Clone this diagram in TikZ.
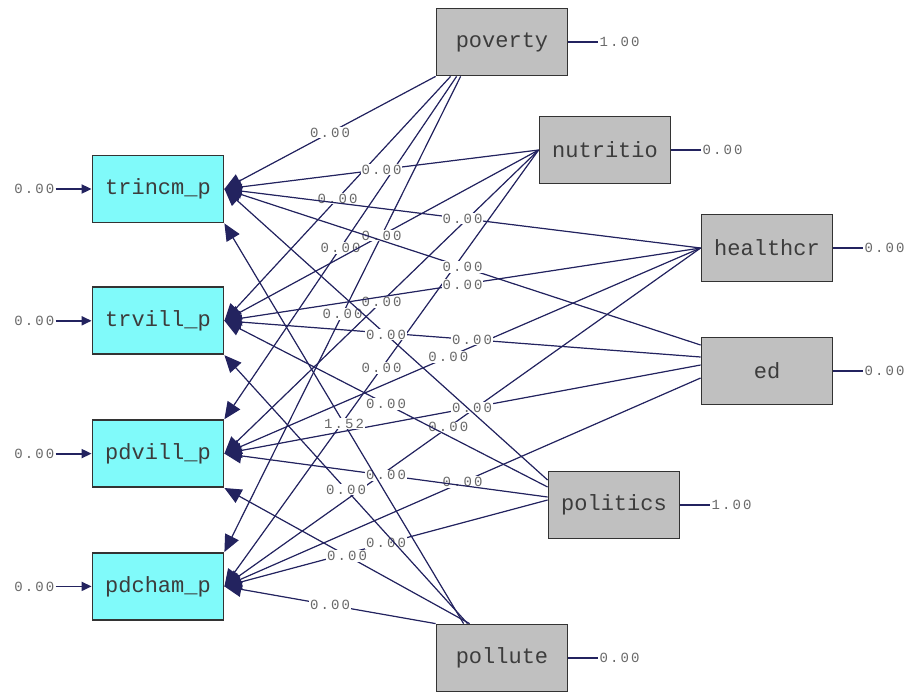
\documentclass[tikz,border=0pt]{standalone}
\usepackage{fontspec}
\setmonofont{Liberation Mono}
\newfontfamily\coeffont[LetterSpace=15]{Liberation Mono}
\usepackage{tikz}
\usetikzlibrary{arrows.meta}
\usetikzlibrary{calc}
\usetikzlibrary{positioning}
\definecolor{pathcol}{RGB}{35,35,95}
\definecolor{tipcol}{RGB}{15,15,120}
\definecolor{ycol}{RGB}{128,250,250}
\definecolor{xcol}{RGB}{192,192,192}
\definecolor{txtcol}{RGB}{60,60,60}
\definecolor{labcol}{RGB}{105,105,105}

\begin{document}
\begin{tikzpicture}[x=1pt, y=-1pt, >={Triangle[length=17pt, width=15pt]}]
    \ttfamily
    \useasboundingbox (0,0) rectangle (915,691);

    \tikzstyle{ybox} = [rectangle, draw=black!80, line width=1.8pt, fill=ycol, minimum width=131pt, minimum height=67pt, text=txtcol, font=\fontsize{22}{24}\selectfont]
    \tikzstyle{xbox} = [ybox, fill=xcol]
    \tikzstyle{lab} = [rectangle, inner sep=1pt, text=labcol, font=\coeffont\fontsize{14}{16}\selectfont]
    \tikzstyle{coef} = [lab, fill=white]
    \tikzstyle{connector} = [->, line width=1.2pt, draw=pathcol, fill=tipcol]
    \tikzstyle{errarrow} = [-{Triangle[length=10pt, width=9pt]}, line width=1.8pt, draw=pathcol]
    \tikzstyle{line} = [line width=1.1pt, draw=pathcol]

    % Left column: the four y boxes %%%%%%%%%%%%%%%%%%%%%%%%%%%%%%%%%%%%%%%%%%%%%%%%%%%%%%%%
    \node[ybox] (trincm) at (158,189) {trincm\_p};
    \node[ybox, below=63pt of trincm] (trvill) {trvill\_p};
    \node[ybox, below=64pt of trvill] (pdvill) {pdvill\_p};
    \node[ybox, below=64pt of pdvill] (pdcham) {pdcham\_p};

    % Right side: the six x boxes %%%%%%%%%%%%%%%%%%%%%%%%%%%%%%%%%%%%%%%%%%%%%%%%%%%%%%%%%%
    \node[xbox] (poverty)  at (502,42)  {poverty};
    \node[xbox] (nutritio) at (605,150) {nutritio};
    \node[xbox] (healthcr) at (767,248) {healthcr};
    \node[xbox] (ed)       at (767,371) {ed};
    \node[xbox] (politics) at (614,505) {politics};
    \node[xbox] (pollute)  at (502,658) {pollute};

    % error terms on the left
    \node [lab, left=36pt of trincm] (eTrincm) {0.00};
    \node [lab, left=36pt of trvill] (eTrvill) {0.00};
    \node [lab, left=36pt of pdvill] (ePdvill) {0.00};
    \node [lab, left=36pt of pdcham] (ePdcham) {0.00};

    \draw [errarrow] (eTrincm) -- (trincm);
    \draw [errarrow] (eTrvill) -- (trvill);
    \draw [errarrow] (ePdvill) -- (pdvill);
    \draw [errarrow] (ePdcham) -- (pdcham);

    % values on the right
    \node [lab, right=30pt of poverty]  (vPoverty)  {1.00};
    \node [lab, right=30pt of nutritio] (vNutritio) {0.00};
    \node [lab, right=30pt of healthcr] (vHealthcr) {0.00};
    \node [lab, right=30pt of ed]       (vEd)       {0.00};
    \node [lab, right=30pt of politics] (vPolitics) {1.00};
    \node [lab, right=30pt of pollute]  (vPollute)  {0.00};

    \draw [line] (poverty)  -- (vPoverty);
    \draw [line] (nutritio) -- (vNutritio);
    \draw [line] (healthcr) -- (vHealthcr);
    \draw [line] (ed)       -- (vEd);
    \draw [line] (politics) -- (vPolitics);
    \draw [line] (pollute)  -- (vPollute);

    % Now link the nodes %%%%%%%%%%%%%%%%%%%%%%%%%%%%%%%%%%%%%%%%%%%%%%%%%%%%%%%%%%%%%%%%
    \draw [connector] (poverty.south west)             -- (trincm.east)       node[coef, midway] {0.00};
    \draw [connector] ($(poverty.south west) + (15,0)$) -- (trvill.east)       node[coef, midway] {0.00};
    \draw [connector] ($(poverty.south west) + (21,0)$) -- (pdvill.north east) node[coef, midway] {0.00};
    \draw [connector] ($(poverty.south west) + (25,0)$) -- (pdcham.north east) node[coef, midway] {0.00};

    \draw [connector] (nutritio.west) -- (trincm.east) node[coef, midway] {0.00};
    \draw [connector] (nutritio.west) -- (trvill.east) node[coef, midway] {0.00};
    \draw [connector] (nutritio.west) -- (pdvill.east) node[coef, midway] {0.00};
    \draw [connector] (nutritio.west) -- (pdcham.east) node[coef, midway] {0.00};

    \draw [connector] (healthcr.west) -- (trincm.east) node[coef, midway] {0.00};
    \draw [connector] (healthcr.west) -- (trvill.east) node[coef, midway] {0.00};
    \draw [connector] (healthcr.west) -- (pdvill.east) node[coef, pos=0.53] {0.00};
    \draw [connector] (healthcr.west) -- (pdcham.east) node[coef, pos=0.53] {0.00};

    \draw [connector] ($(ed.west) + (0,-26)$) -- (trincm.east) node[coef, midway] {0.00};
    \draw [connector] ($(ed.west) + (0,-14)$) -- (trvill.east) node[coef, pos=0.48] {0.00};
    \draw [connector] ($(ed.west) + (0, -6)$) -- (pdvill.east) node[coef, pos=0.48] {0.00};
    \draw [connector] ($(ed.west) + (0,  7)$) -- (pdcham.east) node[coef, midway] {0.00};

    \draw [connector] ($(politics.west) + (0,-25)$) -- (trincm.east) node[coef, midway] {0.00};
    \draw [connector] ($(politics.west) + (0,-18)$) -- (trvill.east) node[coef, midway] {0.00};
    \draw [connector] ($(politics.west) + (0, -8)$) -- (pdvill.east) node[coef, midway] {0.00};
    \draw [connector] ($(politics.west) + (0, -5)$) -- (pdcham.east) node[coef, midway] {0.00};

    \draw [connector] ($(pollute.north west) + (28,0)$) -- (trincm.south east) node[coef, midway] {1.52};
    \draw [connector] ($(pollute.north west) + (32,0)$) -- (trvill.south east) node[coef, midway] {0.00};
    \draw [connector] ($(pollute.north west) + (34,0)$) -- (pdvill.south east) node[coef, midway] {0.00};
    \draw [connector] (pollute.north west)             -- (pdcham.east)       node[coef, midway] {0.00};

\end{tikzpicture}
\end{document}
